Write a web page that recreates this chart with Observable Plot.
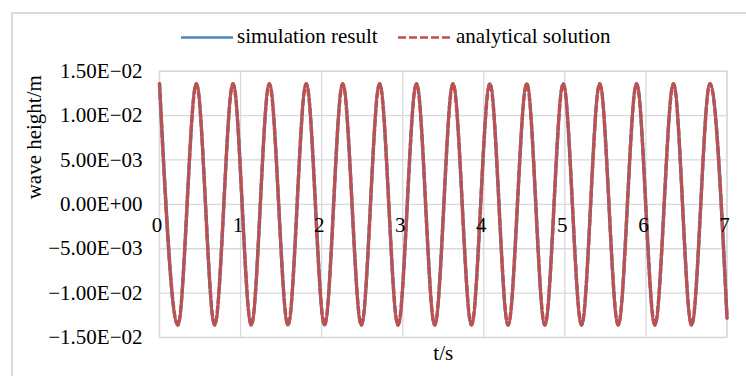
<!DOCTYPE html>
<html>
<head>
<meta charset="utf-8">
<script src="https://cdn.jsdelivr.net/npm/d3@7"></script>
<script src="https://cdn.jsdelivr.net/npm/@observablehq/plot@0.6"></script>
<style>
  html, body { margin: 0; padding: 0; background: #fff; }
  #wrap { position: relative; width: 746px; height: 376px; overflow: hidden;
          font-family: 'Liberation Serif', 'DejaVu Serif', 'Times New Roman', Times, serif; }
  #border { position: absolute; left: 11px; top: 12px; width: 760px; height: 380px;
            border-left: 2px solid #d9d9d9; border-top: 2px solid #d9d9d9; }
  #chart { position: absolute; left: 0; top: 0; }
  #legend { position: absolute; left: 0; top: 0; }
  svg text { font-family: 'Liberation Serif', 'DejaVu Serif', 'Times New Roman', Times, serif !important; }
</style>
</head>
<body>
<div id="wrap">
  <div id="border"></div>
  <div id="chart"></div>
  <svg id="legend" width="746" height="60" font-size="21">
    <line x1="181" x2="233" y1="37.5" y2="37.5" stroke="#4F81BD" stroke-width="2.5"></line>
    <text x="237" y="43" fill="#000">simulation result</text>
    <line x1="398" x2="453" y1="37.5" y2="37.5" stroke="#C0504D" stroke-width="2.5" stroke-dasharray="8,3"></line>
    <text x="456" y="43" fill="#000">analytical solution</text>
  </svg>
</div>
<script>
// Extrema (time in s, wave height in m)
const simT = [0, 0.226, 0.455, 0.68, 0.907, 1.132, 1.355, 1.585, 1.81, 2.036, 2.26, 2.49, 2.715, 2.942, 3.17, 3.395,
              3.62, 3.848, 4.075, 4.30, 4.53, 4.753, 4.98, 5.206, 5.43, 5.658, 5.885, 6.11, 6.34, 6.563, 6.79, 7.0];
const simH = [0.0136, -0.0136, 0.0136, -0.0136, 0.0136, -0.0136, 0.0136, -0.0136, 0.0136, -0.0136, 0.0136, -0.0136,
              0.0136, -0.0136, 0.0136, -0.0136, 0.0136, -0.0136, 0.0136, -0.0136, 0.0136, -0.0136, 0.0136, -0.0136,
              0.0136, -0.0136, 0.0136, -0.0136, 0.0136, -0.0136, 0.0136, -0.0128];
const anaT = simT.slice();
const anaH = simH.slice();

const xTicks = [0, 1, 2, 3, 4, 5, 6, 7];
const xLabels = ["0", "1", "2", "3", "4", "5", "6", "7"];
const yTicks = [0.015, 0.01, 0.005, 0, -0.005, -0.01, -0.015];
const yLabels = ["1.50E\u221202", "1.00E\u221202", "5.00E\u221203", "0.00E+00", "\u22125.00E\u221203", "\u22121.00E\u221202", "\u22121.50E\u221202"];

const sim = simT.map((t, i) => ({t, h: simH[i]}));
const ana = anaT.map((t, i) => ({t, h: anaH[i]}));

const gridColor = "#d9d9d9";
const marginLeft = 159;
const serif = "'Liberation Serif', 'DejaVu Serif', 'Times New Roman', Times, serif";

const chart = Plot.plot({
  width: 746,
  height: 376,
  marginLeft,
  marginRight: 19.5,
  marginTop: 70.7,
  marginBottom: 39,
  style: {fontFamily: serif, fontSize: "21px", background: "transparent", color: "#000", overflow: "visible"},
  x: {domain: [0, 7], axis: null},
  y: {domain: [-0.015, 0.015], axis: null},
  marks: [
    Plot.gridX(xTicks, {stroke: gridColor, strokeOpacity: 1, strokeWidth: 1.3}),
    Plot.gridY(yTicks, {stroke: gridColor, strokeOpacity: 1, strokeWidth: 1.3}),
    Plot.frame({stroke: gridColor, strokeWidth: 1.3}),
    Plot.axisY(yTicks, {tickSize: 0, tickPadding: 17, fontSize: 21, fill: "#000", label: null,
      tickFormat: d => yLabels[yTicks.indexOf(d)]}),
    Plot.line(sim, {x: "t", y: "h", stroke: "#4F81BD", strokeWidth: 3.4, curve: "monotone-x"}),
    Plot.line(ana, {x: "t", y: "h", stroke: "#C0504D", strokeWidth: 3.4, strokeDasharray: "6,3.5", curve: "monotone-x"}),
    Plot.text(xTicks, {x: d => d, y: () => 0, text: (d, i) => xLabels[i], lineAnchor: "top", dy: 12.6, dx: -2.5, fill: "#000", fontSize: 21}),
    Plot.text(["t/s"], {frameAnchor: "bottom", lineAnchor: "bottom", dy: 22, fill: "#000", fontSize: 21}),
    Plot.text(["wave height/m"], {frameAnchor: "left", rotate: -90, lineAnchor: "bottom", dx: 40 - marginLeft, dy: -5, fill: "#000", fontSize: 21})
  ]
});
document.getElementById("chart").appendChild(chart);
</script>
</body>
</html>
